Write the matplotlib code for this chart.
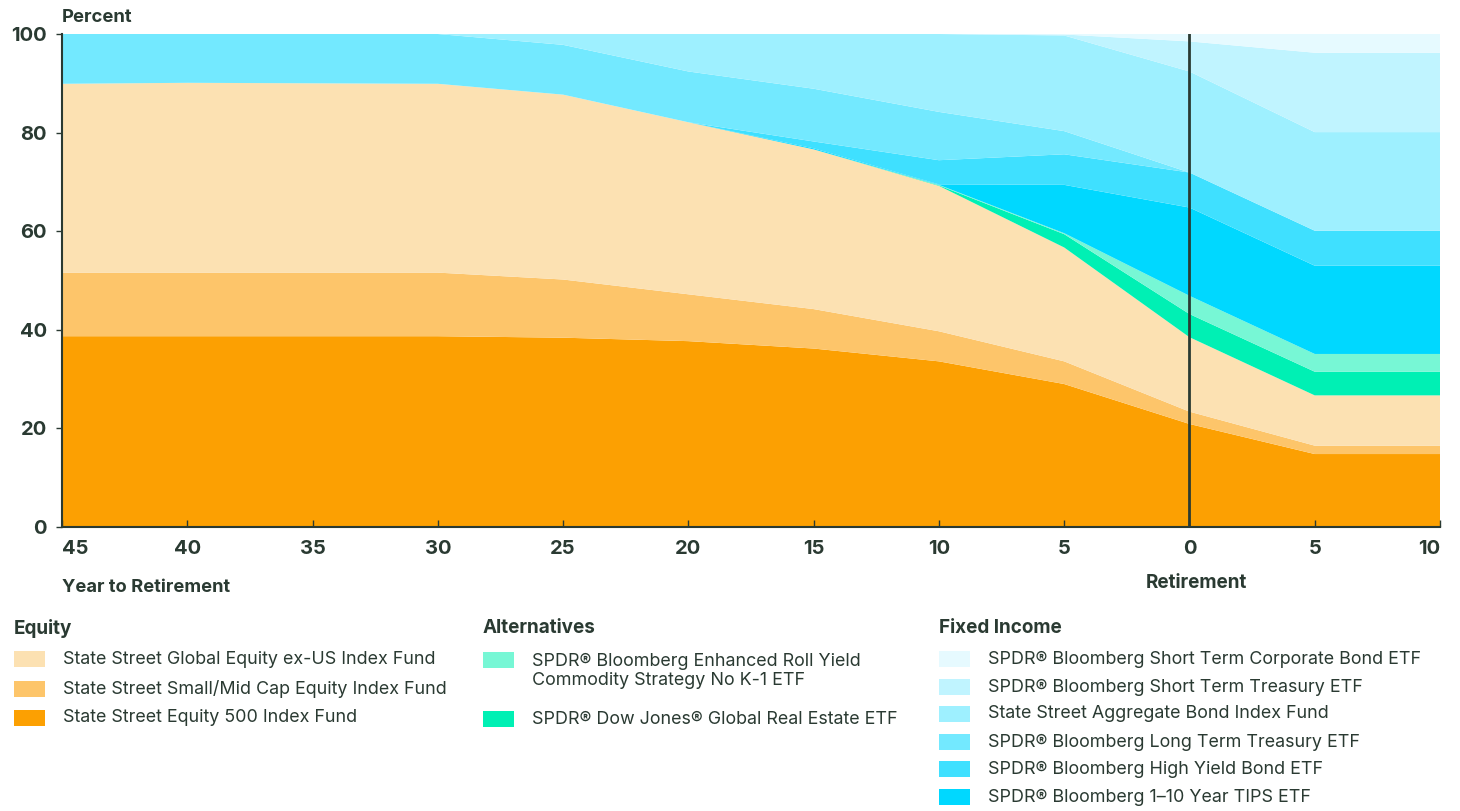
import matplotlib
matplotlib.use("Agg")
import matplotlib.pyplot as plt
from matplotlib.patches import Rectangle

plt.rcParams['font.family'] = ['Inter', 'DejaVu Sans']

INK = '#2a3a32'

# years relative to retirement (negative = before)
years = [-45, -40, -35, -30, -25, -20, -15, -10, -5, 0, 5, 10]
tick_labels = ['45', '40', '35', '30', '25', '20', '15', '10', '5', '0', '5', '10']

# allocations in percent, bottom to top
equity_500 = [38.7, 38.7, 38.7, 38.7, 38.4, 37.7, 36.2, 33.6, 29.0, 20.9, 14.8, 14.8]
small_mid = [12.9, 12.9, 12.9, 12.9, 11.8, 9.5, 8.0, 6.1, 4.6, 2.5, 1.7, 1.7]
global_ex_us = [38.3, 38.5, 38.4, 38.3, 37.5, 34.9, 32.4, 29.5, 23.1, 15.1, 10.2, 10.2]
real_estate = [0, 0, 0, 0, 0, 0, 0, 0.1, 2.7, 4.7, 4.8, 4.8]
commodity = [0, 0, 0, 0, 0, 0, 0, 0.1, 0.2, 3.7, 3.6, 3.6]
tips = [0, 0, 0, 0, 0, 0, 0.2, 0.1, 9.8, 17.9, 17.9, 17.9]
high_yield = [0, 0, 0, 0, 0, 0, 1.4, 4.9, 6.2, 7.1, 7.1, 7.1]
long_treasury = [10.1, 9.9, 10.0, 10.1, 10.1, 10.3, 10.7, 9.8, 4.7, 0, 0, 0]
aggregate = [0, 0, 0, 0, 2.2, 7.6, 11.1, 15.8, 19.4, 20.5, 20.0, 20.0]
short_treasury = [0, 0, 0, 0, 0, 0, 0, 0, 0.2, 6.1, 16.1, 16.1]
short_corp = [0, 0, 0, 0, 0, 0, 0, 0, 0.1, 1.5, 3.8, 3.8]

series = [equity_500, small_mid, global_ex_us, real_estate, commodity, tips,
          high_yield, long_treasury, aggregate, short_treasury, short_corp]
colors = ['#fca002', '#fdc56a', '#fce1b2', '#00f0b4', '#77f7d5', '#00d8ff',
          '#3fe0ff', '#73e9ff', '#9ef0ff', '#c0f4ff', '#e6faff']

equity_labels = ['State Street Global Equity ex-US Index Fund',
                 'State Street Small/Mid Cap Equity Index Fund',
                 'State Street Equity 500 Index Fund']
alt_labels = ['SPDR® Bloomberg Enhanced Roll Yield\nCommodity Strategy No K-1 ETF',
              'SPDR® Dow Jones® Global Real Estate ETF']
fixed_labels = ['SPDR® Bloomberg Short Term Corporate Bond ETF',
                'SPDR® Bloomberg Short Term Treasury ETF',
                'State Street Aggregate Bond Index Fund',
                'SPDR® Bloomberg Long Term Treasury ETF',
                'SPDR® Bloomberg High Yield Bond ETF',
                'SPDR® Bloomberg 1–10 Year TIPS ETF']

W, H = 1460, 811
fig = plt.figure(figsize=(W / 100, H / 100), dpi=100)
ax = fig.add_axes([62 / W, 1 - 527 / H, (1440 - 62) / W, (527 - 34) / H])

ax.stackplot(years, *series, colors=colors, linewidth=0)
ax.axvline(0, color=INK, lw=2, zorder=5)

ax.set_xlim(-45, 10)
ax.set_ylim(0, 100)
for s in ['top', 'right']:
    ax.spines[s].set_visible(False)
for s in ['left', 'bottom']:
    ax.spines[s].set_color(INK)
    ax.spines[s].set_linewidth(1.5)
    ax.spines[s].set_zorder(6)

ax.set_yticks([0, 20, 40, 60, 80, 100])
ax.set_xticks(years)
ax.set_xticklabels(tick_labels)
ax.tick_params(axis='x', direction='in', length=5, width=1, color=INK, pad=9,
               labelsize=14.5, labelcolor=INK)
ax.tick_params(axis='y', direction='out', length=4, width=1, color=INK, pad=7,
               labelsize=14.5, labelcolor=INK)
for lab in ax.get_xticklabels() + ax.get_yticklabels():
    lab.set_fontweight('bold')
xt = ax.get_xticklabels()
xt[0].set_ha('left')
xt[-1].set_ha('right')

def px(x, y):
    return x / W, 1 - y / H

fig.text(*px(62, 17), 'Percent', fontsize=13.3, fontweight='bold', color=INK, va='center')
fig.text(*px(62, 587), 'Year to Retirement', fontsize=13.2, fontweight='bold', color=INK, va='center')
fig.text(*px(1196, 583), 'Retirement', fontsize=13.6, fontweight='bold', color=INK,
         va='center', ha='center')

def legend_block(x, head, labels, cols, ys):
    fig.text(*px(x, 628), head, fontsize=13.6, fontweight='bold', color=INK, va='center')
    for lab, c, y in zip(labels, cols, ys):
        fig.patches.append(Rectangle(px(x, y + 8), 31 / W, 16 / H, transform=fig.transFigure,
                                     facecolor=c, edgecolor='none'))
        n = lab.count('\n')
        fig.text(*px(x + 49, y + n * 11), lab, fontsize=12.9, color=INK, va='center',
                 linespacing=1.2)

legend_block(14, 'Equity', equity_labels, [colors[2], colors[1], colors[0]], [659, 689, 718])
legend_block(483, 'Alternatives', alt_labels, [colors[4], colors[3]], [660, 719])
legend_block(939, 'Fixed Income', fixed_labels, colors[10:4:-1],
             [659, 687, 714, 742, 769, 797])

fig.savefig('out.png', dpi=100)
